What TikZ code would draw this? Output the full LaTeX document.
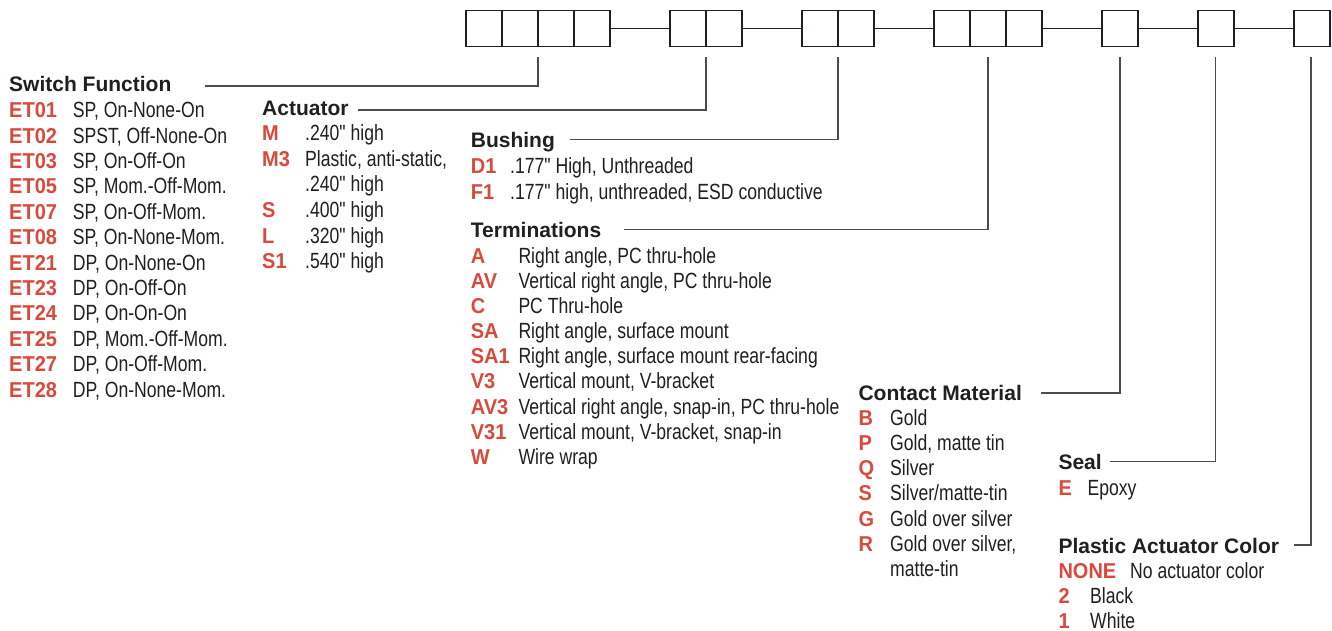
\documentclass[tikz,border=0pt]{standalone}
\usepackage{fontspec}
\setmainfont{Liberation Sans}
\newfontfamily\condfont[FakeStretch=0.8]{Liberation Sans}
\newfontfamily\codefont[FakeStretch=0.93]{Liberation Sans}
\definecolor{codered}{HTML}{D9493C}
\definecolor{ink}{HTML}{231F20}
\definecolor{wirec}{HTML}{4D4D4D}
\begin{document}
\begin{tikzpicture}[x=1pt,y=-1pt,
  cell/.style={draw=ink, line width=1.4pt, minimum width=36pt, minimum height=36pt, inner sep=0pt, outer sep=0pt},
  head/.style={anchor=base west, inner sep=0pt, text=ink, font=\fontsize{21}{21}\selectfont\bfseries},
  code/.style={anchor=base west, inner sep=0pt, text=codered, font=\fontsize{21.5}{21.5}\selectfont\codefont\bfseries},
  desc/.style={anchor=base west, inner sep=0pt, text=ink, font=\fontsize{22}{22}\selectfont\condfont},
  wire/.style={draw=wirec, line width=1.6pt},
  link/.style={draw=ink, line width=1.3pt}]
\useasboundingbox[fill=white] (0,0) rectangle (1332,631);

% ---- code boxes ----
\foreach \n/\x in {a1/484,a2/520,a3/556,a4/592,b1/688,b2/724,c1/820,c2/856,d1/952,d2/988,d3/1024,e1/1120,f1/1216,g1/1312}
  \node[cell] (\n) at (\x,28.7) {};
\draw[link] (a4.east) -- (b1.west);
\draw[link] (b2.east) -- (c1.west);
\draw[link] (c2.east) -- (d1.west);
\draw[link] (d3.east) -- (e1.west);
\draw[link] (e1.east) -- (f1.west);
\draw[link] (f1.east) -- (g1.west);

% ---- connector end points ----
\coordinate (sfT) at (538,57);
\coordinate (acT) at (706,57);
\coordinate (buT) at (838,57);
\coordinate (teT) at (988,57);
\coordinate (cmT) at (1120,57);
\coordinate (seT) at (1215.5,57);
\coordinate (coT) at (1311,57);
\coordinate (sfL) at (205,86);
\coordinate (acL) at (358,110);
\coordinate (buL) at (570,139.5);
\coordinate (teL) at (624,229.5);
\coordinate (cmL) at (1041,393);
\coordinate (seL) at (1110,461.5);
\coordinate (coL) at (1294,545);
\draw[wire] (sfL) -| (sfT);
\draw[wire] (acL) -| (acT);
\draw[wire] (buL) -| (buT);
\draw[wire] (teL) -| (teT);
\draw[wire] (cmL) -| (cmT);
\draw[wire] (seL) -| (seT);
\draw[wire] (coL) -| (coT);

% ---- Switch Function ----
\node[head] (sfh) at (9,92) {Switch Function};
\foreach \c/\d [count=\i] in {ET01/{SP, On-None-On},ET02/{SPST, Off-None-On},ET03/{SP, On-Off-On},ET05/{SP, Mom.-Off-Mom.},ET07/{SP, On-Off-Mom.},ET08/{SP, On-None-Mom.},ET21/{DP, On-None-On},ET23/{DP, On-Off-On},ET24/{DP, On-On-On},ET25/{DP, Mom.-Off-Mom.},ET27/{DP, On-Off-Mom.},ET28/{DP, On-None-Mom.}}{
  \pgfmathsetmacro\yy{117.7+25.4*(\i-1)}
  \node[code] (sfc\i) at (9,\yy) {\c};
  \node[desc] (sfd\i) at (72.7,\yy) {\d};
}

% ---- Actuator ----
\node[head] (ach) at (262,116) {Actuator};
\foreach \c/\d [count=\i] in {M/{.240" high},M3/{Plastic, anti-static,},{}/{.240" high},S/{.400" high},L/{.320" high},S1/{.540" high}}{
  \pgfmathsetmacro\yy{141+25.5*(\i-1)}
  \node[code] (acc\i) at (262,\yy) {\c};
  \node[desc] (acd\i) at (305,\yy) {\d};
}

% ---- Bushing ----
\node[head] (buh) at (470.7,148) {Bushing};
\node[code] (buc1) at (470.7,173.3) {D1};
\node[desc] (bud1) at (510,173.3) {.177" High, Unthreaded};
\node[code] (buc2) at (470.7,199.3) {F1};
\node[desc] (bud2) at (510,199.3) {.177" high, unthreaded, ESD conductive};

% ---- Terminations ----
\node[head] (teh) at (470.7,237.5) {Terminations};
\foreach \c/\d [count=\i] in {A/{Right angle, PC thru-hole},AV/{Vertical right angle, PC thru-hole},C/{PC Thru-hole},SA/{Right angle, surface mount},SA1/{Right angle, surface mount rear-facing},V3/{Vertical mount, V-bracket},AV3/{Vertical right angle, snap-in, PC thru-hole},V31/{Vertical mount, V-bracket, snap-in},W/{Wire wrap}}{
  \pgfmathsetmacro\yy{263.4+25.1*(\i-1)}
  \node[code] (tec\i) at (470.7,\yy) {\c};
  \node[desc] (ted\i) at (518.3,\yy) {\d};
}

% ---- Contact Material ----
\node[head] (cmh) at (858.3,400.5) {Contact Material};
\foreach \c/\d [count=\i] in {B/{Gold},P/{Gold, matte tin},Q/{Silver},S/{Silver/matte-tin},G/{Gold over silver},R/{Gold over silver,},{}/{matte-tin}}{
  \pgfmathsetmacro\yy{425+25.3*(\i-1)}
  \node[code] (cmc\i) at (858.3,\yy) {\c};
  \node[desc] (cmd\i) at (890,\yy) {\d};
}

% ---- Seal ----
\node[head] (seh) at (1058.3,469.3) {Seal};
\node[code] (sec1) at (1058.3,495) {E};
\node[desc] (sed1) at (1087.3,495) {Epoxy};

% ---- Plastic Actuator Color ----
\node[head] (coh) at (1058.3,553.3) {Plastic Actuator Color};
\node[code] (coc1) at (1058.3,578.3) {NONE};
\node[desc] (cod1) at (1130,578.3) {No actuator color};
\node[code] (coc2) at (1058.3,603.3) {2};
\node[desc] (cod2) at (1090,603.3) {Black};
\node[code] (coc3) at (1058.3,628.3) {1};
\node[desc] (cod3) at (1090,628.3) {White};
\end{tikzpicture}
\end{document}
